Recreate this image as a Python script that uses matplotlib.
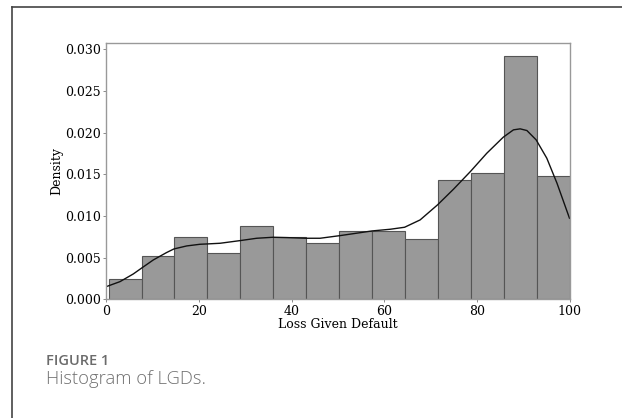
import numpy as np
import matplotlib
matplotlib.use("Agg")
import matplotlib.pyplot as plt
from matplotlib.lines import Line2D

# Histogram (density) values
bin_left = 0.5
bin_right = 100.0
densities = [0.00244, 0.00516, 0.00752, 0.00560, 0.00880, 0.00744, 0.00672,
             0.00824, 0.00824, 0.00720, 0.01432, 0.01516, 0.02920, 0.01484]

# KDE curve
kde_x = [0.0, 2.96, 5.83, 7.56, 10.15, 12.99, 14.6, 17.36, 20.24, 21.8, 24.56,
         28.9, 32.47, 36.0, 38.96, 43.2, 46.15, 50.5, 57.4, 61.3, 64.4, 67.75,
         71.5, 74.95, 78.6, 82.15, 85.7, 87.9, 89.35, 90.8, 92.8, 95.1, 97.3, 100.0]
kde_y = [0.00152, 0.00212, 0.00304, 0.00372, 0.00472, 0.00560, 0.00604, 0.00640,
         0.00660, 0.00664, 0.00672, 0.00704, 0.00732, 0.00744, 0.00740, 0.00732,
         0.00732, 0.00764, 0.00820, 0.00840, 0.00864, 0.00952, 0.01132, 0.01320,
         0.01532, 0.01752, 0.01944, 0.02032, 0.02044, 0.02024, 0.01912, 0.01692,
         0.01392, 0.00972]

x_ticks = [0, 20, 40, 60, 80, 100]
y_ticks = [0.000, 0.005, 0.010, 0.015, 0.020, 0.025, 0.030]
x_label = "Loss Given Default"
y_label = "Density"
fig_label = "FIGURE 1"
caption = "Histogram of LGDs."

fig = plt.figure(figsize=(6.22, 4.18), dpi=100)
fig.patch.set_facecolor("white")

# outer frame (left and top visible)
fig.add_artist(Line2D([12.3/622, 12.3/622], [0, 1 - 6.7/418], transform=fig.transFigure,
                      color="#444444", lw=1.2))
fig.add_artist(Line2D([12.3/622, 1], [1 - 6.7/418, 1 - 6.7/418], transform=fig.transFigure,
                      color="#444444", lw=1.2))

ax = fig.add_axes([106.3/622, 1 - 299.3/418, (569.5-106.3)/622, (299.3-43.3)/418])

n = len(densities)
edges = np.linspace(bin_left, bin_right, n + 1)
ax.bar(edges[:-1], densities, width=np.diff(edges), align="edge",
       color="#999999", edgecolor="#555555", linewidth=0.8)
ax.plot(kde_x, kde_y, color="#111111", lw=1.0, solid_joinstyle="round")

ax.set_xlim(0, 100)
ax.set_ylim(0, 0.0307)
ax.set_xticks(x_ticks)
ax.set_yticks(y_ticks)
ax.set_xticklabels([str(t) for t in x_ticks])
ax.set_yticklabels([f"{t:.3f}" for t in y_ticks])
for sp in ax.spines.values():
    sp.set_color("#999999")
    sp.set_linewidth(1.0)
ax.tick_params(axis="both", labelsize=9, length=2.5, width=0.6, color="#777777", pad=1.5)
for lab in ax.get_xticklabels() + ax.get_yticklabels():
    lab.set_family("DejaVu Serif")
ax.set_xlabel(x_label, family="DejaVu Serif", fontsize=9, labelpad=0)
ax.set_ylabel(y_label, family="DejaVu Serif", fontsize=9, labelpad=1)

fig.text(46/622, 1 - 365/418, fig_label, family="Open Sans", fontweight="semibold",
         fontsize=10.5, color="#6b6b6b", va="baseline", ha="left")
fig.text(46/622, 1 - 384/418, caption, family="Open Sans", fontweight="light",
         fontsize=13.2, color="#707070", va="baseline", ha="left")

fig.savefig("out.png", dpi=100, facecolor="white")
